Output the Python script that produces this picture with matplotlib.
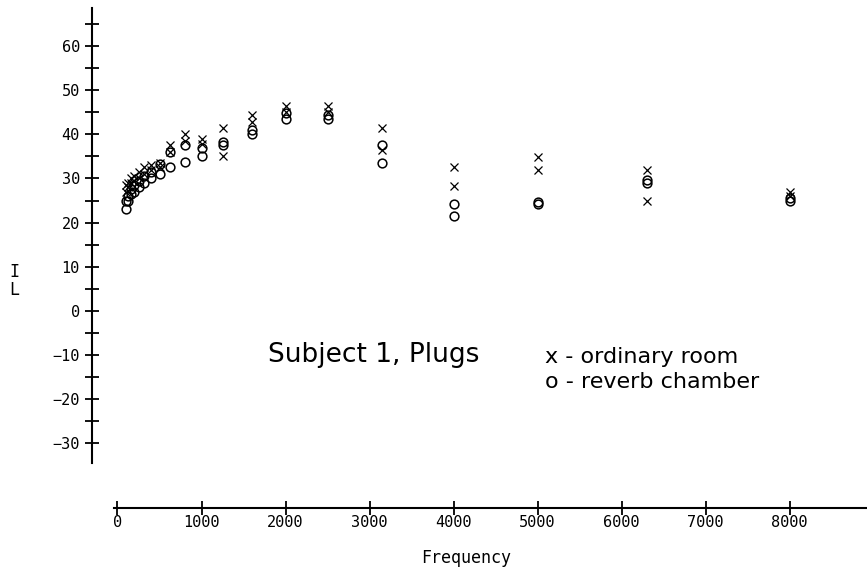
import matplotlib
matplotlib.use('Agg')
import matplotlib.pyplot as plt

# third-octave band centre frequencies (Hz)
freqs = [100, 125, 160, 200, 250, 315, 400, 500, 630, 800,
         1000, 1250, 1600, 2000, 2500, 3150, 4000, 5000, 6300, 8000]

# x - ordinary room, two trials
room_a = [28.5, 29.0, 30.0, 30.5, 31.5, 32.5, 33.0, 33.5, 37.5, 40.0,
          39.0, 41.5, 44.3, 46.5, 46.5, 41.5, 32.5, 34.8, 32.0, 27.0]
room_b = [27.0, 28.0, 29.0, 29.5, 30.0, 31.0, 32.0, 32.5, 36.0, 38.5,
          37.8, 35.0, 42.8, 45.0, 45.0, 36.5, 28.2, 32.0, 24.8, 26.0]
# o - reverb chamber, two trials
rev_a = [25.0, 26.0, 27.5, 28.5, 29.5, 30.5, 31.5, 33.2, 36.0, 37.5,
         37.0, 38.2, 41.0, 44.8, 44.3, 37.5, 24.1, 24.6, 29.6, 25.5]
rev_b = [23.0, 24.8, 26.5, 27.0, 28.0, 29.0, 30.0, 31.0, 32.5, 33.7,
         35.0, 37.5, 40.0, 43.5, 43.5, 33.6, 21.4, 24.1, 29.0, 25.0]

x_ticks = list(range(0, 9000, 1000))
y_ticks = list(range(-30, 70, 5))

W, H = 867, 577
fig = plt.figure(figsize=(W / 100, H / 100), dpi=100)
ax = fig.add_axes([0, 0, 1, 1])

# pixel mapping of the reference
x0, xs = 117.5, 0.084      # px of 0 Hz, px per Hz
y0, ys = 310.9, 4.415      # px of 0 dB, px per dB
ax.set_xlim(-x0 / xs, (W - x0) / xs)
ax.set_ylim((y0 - H) / ys, y0 / ys)
ax.patch.set_alpha(0)

mono = 'DejaVu Sans Mono'

for sp in ['top', 'right']:
    ax.spines[sp].set_visible(False)
ax.spines['left'].set_position(('data', (92 - x0) / xs))
ax.spines['left'].set_bounds(-34.5, 68.6)
ax.spines['bottom'].set_position(('data', (y0 - 507.5) / ys))
ax.spines['bottom'].set_bounds(-40, (W + 5 - x0) / xs)
for sp in ['left', 'bottom']:
    ax.spines[sp].set_linewidth(1.5)

ax.set_xticks(x_ticks)
ax.set_xticklabels([str(v) for v in x_ticks], family=mono, fontsize=11)
ax.set_yticks(y_ticks)
ax.set_yticklabels([str(v).replace('-', '\u2212') if v % 10 == 0 else ''
                    for v in y_ticks], family=mono, fontsize=11)
ax.tick_params(axis='both', direction='inout', length=9.5, width=1.3)
ax.tick_params(axis='y', pad=4)
ax.tick_params(axis='x', pad=1)

ax.plot(freqs, room_a, 'x', color='black', ms=5.5, mew=0.9)
ax.plot(freqs, room_b, 'x', color='black', ms=5.5, mew=0.9)
ax.plot(freqs, rev_a, 'o', mfc='none', mec='black', ms=6.3, mew=1.1)
ax.plot(freqs, rev_b, 'o', mfc='none', mec='black', ms=6.3, mew=1.1)

fig.text(14 / W, 1 - 281 / H, 'I\nL', family=mono, fontsize=12,
         ha='center', va='center', linespacing=1.05)
fig.text(466 / W, 1 - 558 / H, 'Frequency', family=mono, fontsize=12,
         ha='center', va='center')

fig.text(268 / W, 1 - 355 / H, 'Subject 1, Plugs', family='DejaVu Sans',
         fontsize=19, ha='left', va='center')
fig.text(545 / W, 1 - 357 / H, 'x - ordinary room', family='DejaVu Sans',
         fontsize=16, ha='left', va='center')
fig.text(545 / W, 1 - 382 / H, 'o - reverb chamber', family='DejaVu Sans',
         fontsize=16, ha='left', va='center')

fig.savefig('out.png', dpi=100)
